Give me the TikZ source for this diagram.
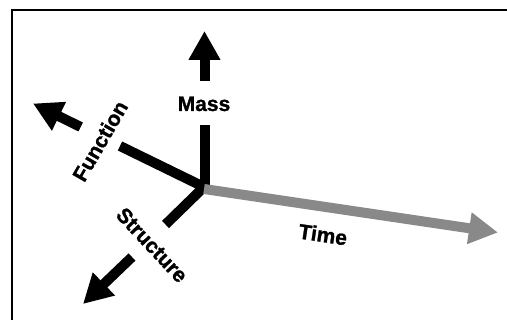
\documentclass[tikz,border=0pt]{standalone}
\usepackage{fontspec}
\newfontfamily\lblfont[FakeBold=1.2]{Liberation Sans}
\usetikzlibrary{arrows.meta}
\definecolor{timegray}{RGB}{137,137,137}
\tikzset{
  axisline/.style={line width=10pt, line cap=butt},
  axisarrow/.style={line width=10pt, line cap=butt, -{Triangle[length=29pt,width=30pt]}},
  axislabel/.style={font=\lblfont\bfseries\fontsize{21}{25}\selectfont, inner sep=0pt},
  frameline/.style={line width=2pt}
}
\begin{document}
\begin{tikzpicture}[x=1pt,y=-1pt]
\useasboundingbox (0,0) rectangle (507,320);
% frame (cut off at right and bottom)
\coordinate (fr0) at (11.5,330);
\coordinate (fr1) at (11.5,10);
\coordinate (fr2) at (520,10);
\draw[frameline] (fr0) -- (fr1) -- (fr2);
% origin and axis points
\coordinate (O) at (204,187);
\coordinate (Mlow) at (204.5,190);
\coordinate (Min) at (204.5,125);
\coordinate (Mout) at (204.5,81);
\coordinate (Mtip) at (204.5,31);
\coordinate (Fin) at (120,146);
\coordinate (Fout) at (80.7,127);
\coordinate (Ftip) at (33,103.5);
\coordinate (Sin) at (165.5,224.5);
\coordinate (Sout) at (132,257);
\coordinate (Stip) at (83,304);
\coordinate (T0) at (204,189);
\coordinate (Ttip) at (498,232.5);
% black axes
\draw[axisline] (Mlow) -- (Min);
\draw[axisarrow] (Mout) -- (Mtip);
\draw[axisline] ([shift={(2,1)}]O) -- (Fin);
\draw[axisarrow] (Fout) -- (Ftip);
\draw[axisline] ([shift={(2,-2)}]O) -- (Sin);
\draw[axisarrow] (Sout) -- (Stip);
% time axis
\draw[axisarrow, timegray] (T0) -- (Ttip);
% labels
\node[axislabel, anchor=base] (mass) at (204,111) {Mass};
\node[axislabel, rotate=60] (function) at (100,141) {Function};
\node[axislabel, rotate=-47] (structure) at (152,245) {Structure};
\node[axislabel, rotate=-8.5] (time) at (323,234.5) {Time};
\end{tikzpicture}
\end{document}
